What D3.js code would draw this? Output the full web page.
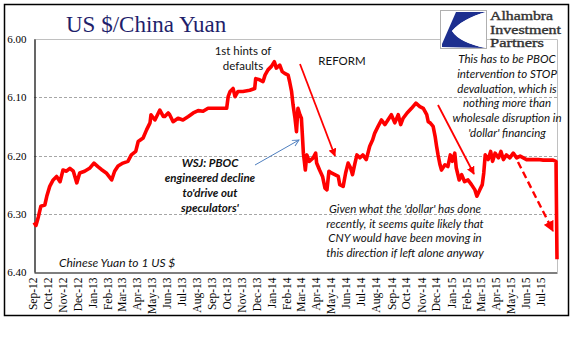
<!DOCTYPE html>
<html><head><meta charset="utf-8">
<script src="https://cdn.jsdelivr.net/npm/d3@7"></script>
<style>
html,body{margin:0;padding:0;background:#fff;}
svg{display:block;}
</style>
</head><body>
<svg id="chart" width="577" height="341"></svg>
<script>
// ---- data ----
const dates = [
"2012-09-12","2012-09-16","2012-09-21","2012-09-26","2012-10-04","2012-10-08","2012-10-14","2012-10-21","2012-10-28","2012-11-04",
"2012-11-10","2012-11-17","2012-11-24","2012-12-01","2012-12-08","2012-12-14","2012-12-24","2013-01-03","2013-01-12","2013-01-20",
"2013-01-27","2013-02-06","2013-02-17","2013-02-23","2013-03-02","2013-03-12","2013-03-22","2013-03-29","2013-04-07","2013-04-12",
"2013-04-22","2013-04-29","2013-05-06","2013-05-08","2013-05-16","2013-05-26","2013-06-02","2013-06-05","2013-06-12","2013-06-15",
"2013-06-22","2013-07-02","2013-07-12","2013-07-23","2013-08-02","2013-08-12","2013-08-22","2013-09-01","2013-09-15","2013-09-29",
"2013-10-09","2013-10-12","2013-10-16","2013-10-22","2013-10-26","2013-11-01","2013-11-11","2013-11-25","2013-12-05","2013-12-07",
"2013-12-15","2013-12-22","2013-12-26","2014-01-01","2014-01-08","2014-01-14","2014-01-18","2014-01-25","2014-01-30","2014-02-04",
"2014-02-11","2014-02-14","2014-02-18","2014-02-21","2014-02-25","2014-02-28","2014-03-03","2014-03-07","2014-03-10","2014-03-12",
"2014-03-14","2014-03-16","2014-03-18","2014-03-21","2014-03-26","2014-04-03","2014-04-08","2014-04-10","2014-04-16","2014-04-22",
"2014-04-27","2014-05-01","2014-05-05","2014-05-10","2014-05-17","2014-05-24","2014-05-27","2014-06-03","2014-06-08","2014-06-13",
"2014-06-18","2014-06-22","2014-06-27","2014-07-01","2014-07-07","2014-07-13","2014-07-20","2014-07-27","2014-08-02","2014-08-06",
"2014-08-13","2014-08-20","2014-08-27","2014-09-02","2014-09-09","2014-09-16","2014-09-23","2014-09-28","2014-10-03","2014-10-11",
"2014-10-20","2014-10-29","2014-11-06","2014-11-13","2014-11-20","2014-11-23","2014-11-27","2014-12-03","2014-12-07","2014-12-10",
"2014-12-13","2014-12-17","2014-12-20","2014-12-27","2015-01-02","2015-01-07","2015-01-11","2015-01-16","2015-01-19","2015-01-25",
"2015-01-30","2015-02-05","2015-02-12","2015-02-19","2015-02-26","2015-03-02","2015-03-08","2015-03-13","2015-03-16","2015-03-19",
"2015-03-25","2015-03-30","2015-04-03","2015-04-08","2015-04-15","2015-04-20","2015-04-25","2015-05-01","2015-05-08","2015-05-15",
"2015-05-22","2015-05-29","2015-06-11","2015-06-25","2015-07-05","2015-07-15","2015-07-25","2015-08-04","2015-08-10","2015-08-12"
];
const cnyPerUsd = [
6.315,6.320,6.305,6.287,6.285,6.270,6.253,6.242,6.236,6.245,
6.225,6.227,6.222,6.227,6.247,6.230,6.227,6.222,6.213,6.219,
6.224,6.230,6.242,6.227,6.218,6.213,6.210,6.199,6.193,6.176,
6.170,6.156,6.144,6.130,6.139,6.122,6.133,6.133,6.127,6.130,
6.142,6.136,6.139,6.133,6.127,6.123,6.124,6.119,6.119,6.119,
6.119,6.099,6.090,6.085,6.099,6.090,6.090,6.088,6.085,6.068,
6.070,6.073,6.062,6.053,6.047,6.039,6.050,6.045,6.056,6.059,
6.062,6.073,6.090,6.113,6.136,6.159,6.119,6.130,6.136,6.165,
6.196,6.210,6.225,6.199,6.210,6.204,6.196,6.213,6.225,6.236,
6.256,6.259,6.227,6.230,6.233,6.236,6.250,6.253,6.230,6.213,
6.221,6.233,6.213,6.199,6.204,6.199,6.207,6.184,6.173,6.162,
6.150,6.139,6.147,6.139,6.130,6.144,6.130,6.147,6.136,6.127,
6.119,6.110,6.116,6.119,6.130,6.142,6.144,6.150,6.167,6.184,
6.199,6.216,6.225,6.216,6.219,6.199,6.210,6.196,6.221,6.242,
6.233,6.245,6.242,6.250,6.259,6.270,6.259,6.250,6.230,6.199,
6.207,6.193,6.210,6.196,6.204,6.193,6.207,6.199,6.204,6.196,
6.204,6.201,6.207,6.207,6.207,6.208,6.208,6.208,6.210,6.378
];
const yTicks = [6.00, 6.10, 6.20, 6.30, 6.40];
const monthTickLabels = ["Sep-12","Oct-12","Nov-12","Dec-12","Jan-13","Feb-13","Mar-13","Apr-13","May-13","Jun-13","Jul-13","Aug-13",
"Sep-13","Oct-13","Nov-13","Dec-13","Jan-14","Feb-14","Mar-14","Apr-14","May-14","Jun-14","Jul-14","Aug-14","Sep-14","Oct-14",
"Nov-14","Dec-14","Jan-15","Feb-15","Mar-15","Apr-15","May-15","Jun-15","Jul-15"];

// ---- chart ----
const svg = d3.select("#chart");
const parse = d3.timeParse("%Y-%m-%d");
const series = dates.map((d,i)=>({date:parse(d), v:cnyPerUsd[i]}));
const L=34, R=557, T=39, B=272;
const x = d3.scaleTime().domain([parse("2012-09-12"), parse("2015-08-12")]).range([L,R]);
const y = d3.scaleLinear().domain([6.0,6.4]).range([T,B]);

// outer border
svg.append("rect").attr("x",4.5).attr("y",4.5).attr("width",564).attr("height",311)
  .attr("fill","#fff").attr("stroke","#000").attr("stroke-width",1.5);

// plot area border (top / right)
svg.append("path").attr("d",`M${L},${T+0.5}H${R+0.5}V${B}`).attr("fill","none").attr("stroke","#c0c0c0").attr("stroke-width",1);

// gridlines
svg.append("g").selectAll("line").data(yTicks.filter(t=>t>6.0 && t<6.4)).join("line")
  .attr("x1",L).attr("x2",R).attr("y1",d=>Math.round(y(d))+0.5).attr("y2",d=>Math.round(y(d))+0.5)
  .attr("stroke","#a6a6a6").attr("stroke-width",1).attr("stroke-dasharray","3,2");

// y axis
const yAxis = d3.axisLeft(y).tickValues(yTicks).tickFormat(d3.format(".2f")).tickSize(0).tickPadding(8);
const gy = svg.append("g").attr("transform",`translate(${L+0.5},0)`).call(yAxis);
gy.select(".domain").attr("stroke","#000").attr("stroke-width",1.2);
gy.selectAll("text").attr("font-family","'Liberation Serif',serif").attr("font-size",11).attr("fill","#000");

// x axis
const monthDates = monthTickLabels.map(s=>d3.timeParse("%b-%y")(s)).map(d=>new Date(d.getFullYear(), d.getMonth(), 12));
const xAxis = d3.axisBottom(x).tickValues(monthDates).tickFormat(d3.timeFormat("%b-%y")).tickSize(0).tickPadding(4);
const gx = svg.append("g").attr("transform",`translate(0,${B+0.5})`).call(xAxis);
gx.select(".domain").attr("stroke","#000").attr("stroke-width",1.2);
gx.selectAll("text").attr("font-family","'Liberation Serif',serif").attr("font-size",11.5).attr("fill","#000")
  .attr("transform","rotate(-90)").attr("text-anchor","end").attr("dy","0.33em").attr("x",-5).attr("y",-1.5);

// series line
svg.append("path").datum(series)
  .attr("fill","none").attr("stroke","#ff0000").attr("stroke-width",3.6).attr("stroke-linejoin","round")
  .attr("d", d3.line().x(d=>x(d.date)).y(d=>y(d.v)));

// title
svg.append("text").attr("x",66).attr("y",32).text("US $/China Yuan")
  .attr("font-family","'Liberation Serif',serif").attr("font-size",23).attr("fill","#1f1f6b");

// logo
const logo = svg.append("g");
logo.append("rect").attr("x",440.5).attr("y",10.5).attr("width",46).attr("height",38).attr("fill","#fff").attr("stroke","#b0b0b0");
logo.append("path").attr("d","M456,12 L486,12 Q462,19 452,31 Q460,43 486,48 L442,47 L442,44 Z").attr("fill","#1d2f8f");
logo.append("path").attr("d","M486,12 Q462,19 452,31 Q460,43 486,48 Z").attr("fill","#fff");
[["Alhambra",20,63],["Investment",33.5,71],["Partners",47,54]].forEach(([t,yy,w])=>
  logo.append("text").attr("x",490).attr("y",yy).text(t)
    .attr("font-family","'Liberation Serif',serif").attr("font-size",12).attr("fill","#333")
    .attr("stroke","#333").attr("stroke-width",0.35)
    .attr("textLength",w).attr("lengthAdjust","spacingAndGlyphs"));

// annotations
const sans = "Lato, 'Open Sans', sans-serif";
function block(lines, cx, y0, dy, opts){
  const t = svg.append("text").attr("text-anchor","middle").attr("font-family",sans)
    .attr("font-size",opts.size||11.5).attr("fill","#111")
    .attr("font-style",opts.italic?"italic":"normal").attr("font-weight",opts.bold?"bold":"normal");
  lines.forEach((s,i)=>t.append("tspan").attr("x",cx).attr("y",y0+i*dy).text(s));
  return t;
}
block(["1st hints of","defaults"],243,55,15,{});
block(["REFORM"],342,65,15,{});
block(["This has to be PBOC","intervention to STOP","devaluation, which is","nothing more than","wholesale disruption in","'dollar' financing"],507,63,14.8,{italic:true});
block(["WSJ: PBOC","engineered decline","to'drive out","speculators'"],210,167,15,{italic:true,bold:true});
block(["Given what the 'dollar' has done","recently, it seems quite likely that","CNY would have been moving in","this direction if left alone anyway"],405,213,14.6,{italic:true});
svg.append("text").attr("x",59).attr("y",267).text("Chinese Yuan to 1 US $")
  .attr("font-family",sans).attr("font-size",12).attr("font-style","italic").attr("fill","#111");

// arrows
const defs = svg.append("defs");
defs.append("marker").attr("id","redHead").attr("viewBox","0 0 10 10").attr("refX",9).attr("refY",5)
  .attr("markerWidth",4.5).attr("markerHeight",4.5).attr("orient","auto").attr("markerUnits","strokeWidth")
  .append("path").attr("d","M0,0 L10,5 L0,10 Z").attr("fill","#ff0000");
defs.append("marker").attr("id","blueHead").attr("viewBox","0 0 10 10").attr("refX",9).attr("refY",5)
  .attr("markerWidth",8).attr("markerHeight",8).attr("orient","auto").attr("markerUnits","strokeWidth")
  .append("path").attr("d","M1,1 L9,5 L1,9").attr("fill","none").attr("stroke","#4f7fbf").attr("stroke-width",1.2);

svg.append("line").attr("x1",300).attr("y1",64).attr("x2",335).attr("y2",156)
  .attr("stroke","#ff0000").attr("stroke-width",1.8).attr("marker-end","url(#redHead)");
svg.append("line").attr("x1",438).attr("y1",105).attr("x2",474).attr("y2",174)
  .attr("stroke","#ff0000").attr("stroke-width",1.8).attr("marker-end","url(#redHead)");
svg.append("line").attr("x1",518).attr("y1",162).attr("x2",553).attr("y2",231)
  .attr("stroke","#ff0000").attr("stroke-width",2.4).attr("stroke-dasharray","7,4").attr("marker-end","url(#redHead)");
svg.append("line").attr("x1",255).attr("y1",165).attr("x2",299).attr("y2",140)
  .attr("stroke","#4f7fbf").attr("stroke-width",1).attr("marker-end","url(#blueHead)");
</script>
</body></html>
